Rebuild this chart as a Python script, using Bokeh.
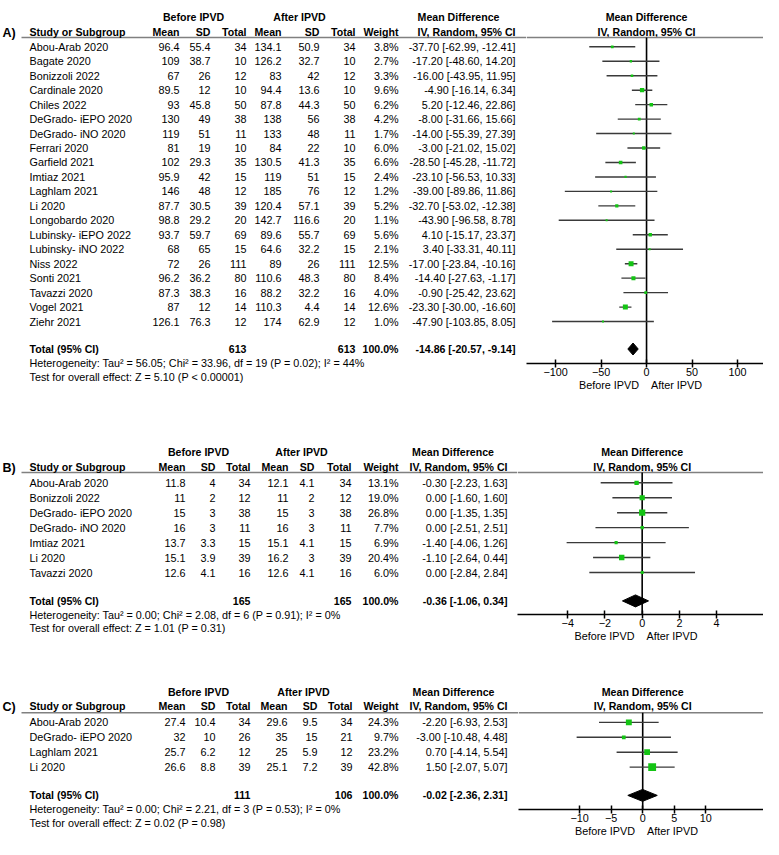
import math
from bokeh.plotting import figure
from bokeh.layouts import row, column
from bokeh.models import Range1d, FixedTicker, ColumnDataSource
from bokeh.core.properties import value
from bokeh.embed import file_html
from bokeh.resources import INLINE

FONT = "Liberation Sans"
REG = "10.8px"
BOLD = "10.6px"
GREEN = "#14c414"

# ---------------- Panel A data ----------------
a_study = ["Abou-Arab 2020", "Bagate 2020", "Bonizzoli 2022", "Cardinale 2020", "Chiles 2022",
           "DeGrado- iEPO 2020", "DeGrado- iNO 2020", "Ferrari 2020", "Garfield 2021", "Imtiaz 2021",
           "Laghlam 2021", "Li 2020", "Longobardo 2020", "Lubinsky- iEPO 2022", "Lubinsky- iNO 2022",
           "Niss 2022", "Sonti 2021", "Tavazzi 2020", "Vogel 2021", "Ziehr 2021"]
a_b_mean = [96.4, 109, 67, 89.5, 93, 130, 119, 81, 102, 95.9, 146, 87.7, 98.8, 93.7, 68, 72, 96.2, 87.3, 87, 126.1]
a_b_sd = [55.4, 38.7, 26, 12, 45.8, 49, 51, 19, 29.3, 42, 48, 30.5, 29.2, 59.7, 65, 26, 36.2, 38.3, 12, 76.3]
a_b_n = [34, 10, 12, 10, 50, 38, 11, 10, 35, 15, 12, 39, 20, 69, 15, 111, 80, 16, 14, 12]
a_a_mean = [134.1, 126.2, 83, 94.4, 87.8, 138, 133, 84, 130.5, 119, 185, 120.4, 142.7, 89.6, 64.6, 89, 110.6, 88.2, 110.3, 174]
a_a_sd = [50.9, 32.7, 42, 13.6, 44.3, 56, 48, 22, 41.3, 51, 76, 57.1, 116.6, 55.7, 32.2, 26, 48.3, 32.2, 4.4, 62.9]
a_a_n = [34, 10, 12, 10, 50, 38, 11, 10, 35, 15, 12, 39, 20, 69, 15, 111, 80, 16, 14, 12]
a_weight = [3.8, 2.7, 3.3, 9.6, 6.2, 4.2, 1.7, 6.0, 6.6, 2.4, 1.2, 5.2, 1.1, 5.6, 2.1, 12.5, 8.4, 4.0, 12.6, 1.0]
a_md = [-37.70, -17.20, -16.00, -4.90, 5.20, -8.00, -14.00, -3.00, -28.50, -23.10, -39.00, -32.70, -43.90, 4.10, 3.40, -17.00, -14.40, -0.90, -23.30, -47.90]
a_lo = [-62.99, -48.60, -43.95, -16.14, -12.46, -31.66, -55.39, -21.02, -45.28, -56.53, -89.86, -53.02, -96.58, -15.17, -33.31, -23.84, -27.63, -25.42, -30.00, -103.85]
a_hi = [-12.41, 14.20, 11.95, 6.34, 22.86, 15.66, 27.39, 15.02, -11.72, 10.33, 11.86, -12.38, 8.78, 23.37, 40.11, -10.16, -1.17, 23.62, -16.60, 8.05]
a_total = [613, 613, 100.0, -14.86, -20.57, -9.14]   # n before, n after, weight, md, lo, hi
a_stats = [56.05, 33.96, 19, "= 0.02", 44, 5.10, "< 0.00001"]  # tau2, chi2, df, p_het, I2, Z, p
a_ticks = [-100, -50, 0, 50, 100]

# ---------------- Panel B data ----------------
b_study = ["Abou-Arab 2020", "Bonizzoli 2022", "DeGrado- iEPO 2020", "DeGrado- iNO 2020", "Imtiaz 2021", "Li 2020", "Tavazzi 2020"]
b_b_mean = [11.8, 11, 15, 16, 13.7, 15.1, 12.6]
b_b_sd = [4, 2, 3, 3, 3.3, 3.9, 4.1]
b_b_n = [34, 12, 38, 11, 15, 39, 16]
b_a_mean = [12.1, 11, 15, 16, 15.1, 16.2, 12.6]
b_a_sd = [4.1, 2, 3, 3, 4.1, 3, 4.1]
b_a_n = [34, 12, 38, 11, 15, 39, 16]
b_weight = [13.1, 19.0, 26.8, 7.7, 6.9, 20.4, 6.0]
b_md = [-0.30, 0.00, 0.00, 0.00, -1.40, -1.10, 0.00]
b_lo = [-2.23, -1.60, -1.35, -2.51, -4.06, -2.64, -2.84]
b_hi = [1.63, 1.60, 1.35, 2.51, 1.26, 0.44, 2.84]
b_total = [165, 165, 100.0, -0.36, -1.06, 0.34]
b_stats = [0.00, 2.08, 6, "= 0.91", 0, 1.01, "= 0.31"]
b_ticks = [-4, -2, 0, 2, 4]

# ---------------- Panel C data ----------------
c_study = ["Abou-Arab 2020", "DeGrado- iEPO 2020", "Laghlam 2021", "Li 2020"]
c_b_mean = [27.4, 32, 25.7, 26.6]
c_b_sd = [10.4, 10, 6.2, 8.8]
c_b_n = [34, 26, 12, 39]
c_a_mean = [29.6, 35, 25, 25.1]
c_a_sd = [9.5, 15, 5.9, 7.2]
c_a_n = [34, 21, 12, 39]
c_weight = [24.3, 9.7, 23.2, 42.8]
c_md = [-2.20, -3.00, 0.70, 1.50]
c_lo = [-6.93, -10.48, -4.14, -2.07]
c_hi = [2.53, 4.48, 5.54, 5.07]
c_total = [111, 106, 100.0, -0.02, -2.36, 2.31]
c_stats = [0.00, 2.21, 3, "= 0.53", 0, 0.02, "= 0.98"]
c_ticks = [-10, -5, 0, 5, 10]

FIG_RIGHT = 763


def fnum(v):
    return f"{v:g}"


def txt(p, xs, ys, texts, align="left", bold=False, size=None, color="black", level="glyph"):
    src = ColumnDataSource(dict(x=list(xs), y=list(ys), t=list(texts)))
    p.text(x="x", y="y", text="t", source=src, text_align=align, text_baseline="middle",
           text_font=value(FONT), text_font_size=value(size or (BOLD if bold else REG)),
           text_font_style="bold" if bold else "normal", text_color=color, level=level)


def build_panel(tag, study, bm, bsd, bn, am, asd, an, w, md, lo, hi, total, stats, ticks, g, sq_scale):
    top, bot = g["top"], g["bottom"]
    n = len(study)
    ys = [g["row0"] + i * g["step"] for i in range(n)]
    y_total = ys[-1] + 1.9 * g["step"]
    y_het = y_total + 14
    y_test = y_het + 13.5
    axis_y = int(round(y_total + 14))
    split = g["split"]
    cols = g["cols"]
    H = int(bot - top)
    mbb = int(bot - axis_y)

    # ---------- table figure (frame aligned with the forest frame) ----------
    t = figure(width=int(split), height=H, x_range=Range1d(0, split),
               y_range=Range1d(axis_y, top), output_backend="svg", toolbar_location=None,
               x_axis_location=None, y_axis_location=None, min_border=0,
               min_border_left=0, min_border_right=0, min_border_top=0, min_border_bottom=mbb)
    t.outline_line_color = None
    t.grid.visible = False
    L = "overlay"

    txt(t, [2], [g["y_head"] + 1], [tag], bold=True, size="12.5px", level=L)
    t.segment(x0=[21], y0=[g["y_line"]], x1=[split], y1=[g["y_line"]], line_color="#808080", line_width=1.5)
    txt(t, [g["bc"], g["ac"], g["mdc"]], [g["y_group"]] * 3, ["Before IPVD", "After IPVD", "Mean Difference"],
        align="center", bold=True, level=L)
    txt(t, [29], [g["y_head"]], ["Study or Subgroup"], bold=True, level=L)
    txt(t, cols + [g["mdr"]], [g["y_head"]] * 8,
        ["Mean", "SD", "Total", "Mean", "SD", "Total", "Weight", "IV, Random, 95% CI"], align="right", bold=True, level=L)
    txt(t, [29] * n, ys, study, level=L)
    for cx, vals in zip(cols[:6], [bm, bsd, bn, am, asd, an]):
        txt(t, [cx] * n, ys, [fnum(v) for v in vals], align="right", level=L)
    txt(t, [cols[6]] * n, ys, [f"{v:.1f}%" for v in w], align="right", level=L)
    txt(t, [g["mdr"]] * n, ys, [f"{m:.2f} [{l:.2f}, {h:.2f}]" for m, l, h in zip(md, lo, hi)], align="right", level=L)
    txt(t, [29], [y_total], ["Total (95% CI)"], bold=True, level=L)
    txt(t, [cols[2], cols[5], cols[6], g["mdr"]], [y_total] * 4,
        [fnum(total[0]), fnum(total[1]), f"{total[2]:.1f}%",
         f"{total[3]:.2f} [{total[4]:.2f}, {total[5]:.2f}]"], align="right", bold=True, level=L)
    tau2, chi2, df, phet, i2, z, pz = stats
    txt(t, [29, 29], [y_het, y_test],
        [f"Heterogeneity: Tau\u00b2 = {tau2:.2f}; Chi\u00b2 = {chi2:.2f}, df = {df} (P {phet}); I\u00b2 = {i2}%",
         f"Test for overall effect: Z = {z:.2f} (P {pz})"], level=L)

    # ---------- forest figure ----------
    lo_x, hi_x = g["xr"]
    f = figure(width=int(FIG_RIGHT - split), height=H, x_range=Range1d(lo_x, hi_x),
               y_range=Range1d(axis_y, top), output_backend="svg", toolbar_location=None,
               y_axis_location=None, min_border=0, min_border_left=0,
               min_border_right=0, min_border_top=0, min_border_bottom=mbb)
    f.outline_line_color = None
    f.grid.visible = False
    txt(f, [0, 0], [g["y_group"], g["y_head"]], ["Mean Difference", "IV, Random, 95% CI"], align="center", bold=True)
    f.segment(x0=[lo_x], y0=[g["y_line"]], x1=[hi_x], y1=[g["y_line"]], line_color="#808080", line_width=1.5)
    f.segment(x0=[0], y0=[g["y_line"]], x1=[0], y1=[axis_y], line_color="black", line_width=1.6)
    f.segment(x0=lo, y0=ys, x1=hi, y1=ys, line_color="#3a3a3a", line_width=1.4)
    sizes = [max(2.0, sq_scale * math.sqrt(v)) for v in w]
    f.scatter(x=md, y=ys, size=sizes, marker="square", fill_color=GREEN, line_color=None)
    dh = 6
    f.patch(x=[total[4], total[3], total[5], total[3]], y=[y_total, y_total - dh, y_total, y_total + dh],
            fill_color="black", line_color="black")
    ax = f.xaxis[0]
    ax.ticker = FixedTicker(ticks=ticks)
    ax.minor_tick_line_color = None
    ax.major_tick_in = 4
    ax.major_tick_out = 4
    ax.axis_line_width = 1.5
    ax.major_tick_line_width = 1.5
    ax.axis_line_color = "black"
    ax.major_tick_line_color = "black"
    ax.major_label_standoff = 0
    ax.major_label_text_font = FONT
    ax.major_label_text_font_size = REG
    ax.major_label_text_color = "black"
    ax.axis_label = "Before IPVD\u00a0\u00a0\u00a0\u00a0After IPVD\u00a0\u00a0\u00a0"
    ax.axis_label_text_font = FONT
    ax.axis_label_text_font_size = REG
    ax.axis_label_text_font_style = "normal"
    ax.axis_label_text_color = "black"
    ax.axis_label_standoff = 0
    return row(t, f)


gA = dict(top=0, bottom=398, y_group=16, y_head=31, y_line=37, row0=46.3, step=14.46,
          cols=[179, 210, 246, 281, 319, 355, 398], mdr=515, bc=193, ac=299, mdc=458,
          split=526, xr=(-132, 128.6))
gB = dict(top=398, bottom=660, y_group=451.7, y_head=466, y_line=472, row0=482.3, step=14.95,
          cols=[185, 215, 250, 288, 314, 351, 398], mdr=507, bc=198, ac=301, mdc=452.5,
          split=517, xr=(-6.7, 6.52))
gC = dict(top=674, bottom=853, y_group=705.5, y_head=720, y_line=726.5, row0=736.3, step=15,
          cols=[185, 215, 250, 287, 317, 352, 398], mdr=507, bc=198, ac=303, mdc=453,
          split=518, xr=(-19.7, 19.16))

pA = build_panel("A)", a_study, a_b_mean, a_b_sd, a_b_n, a_a_mean, a_a_sd, a_a_n, a_weight, a_md, a_lo, a_hi,
                 a_total, a_stats, a_ticks, gA, 1.4)
pB = build_panel("B)", b_study, b_b_mean, b_b_sd, b_b_n, b_a_mean, b_a_sd, b_a_n, b_weight, b_md, b_lo, b_hi,
                 b_total, b_stats, b_ticks, gB, 1.2)
pC = build_panel("C)", c_study, c_b_mean, c_b_sd, c_b_n, c_a_mean, c_a_sd, c_a_n, c_weight, c_md, c_lo, c_hi,
                 c_total, c_stats, c_ticks, gC, 1.2)

p = column(pA, pB, pC)
open("out.html", "w").write(file_html(p, INLINE))
